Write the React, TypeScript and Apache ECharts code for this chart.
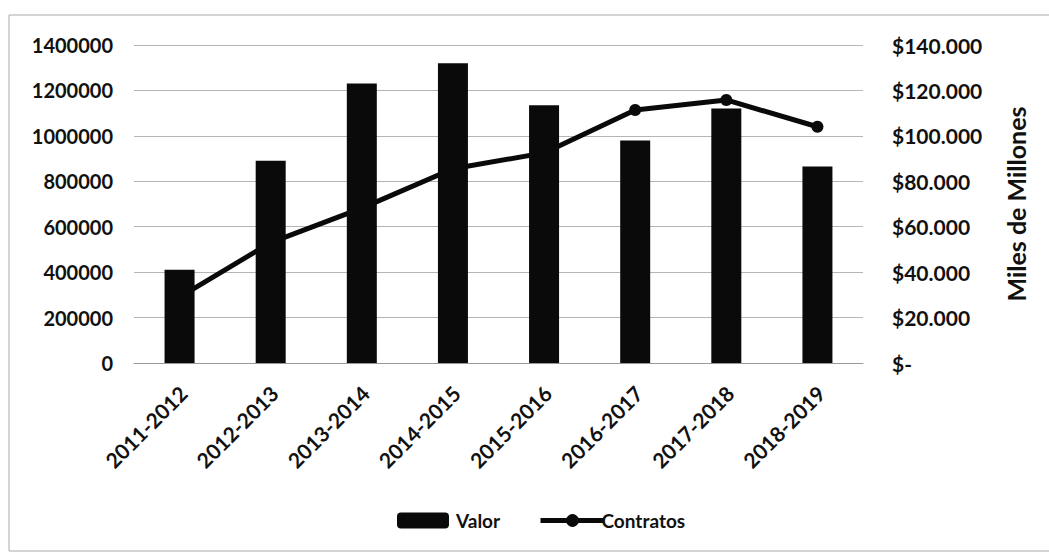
import React, { useEffect, useRef } from "react";
import * as echarts from "echarts";

const categories = ["2011-2012", "2012-2013", "2013-2014", "2014-2015", "2015-2016", "2016-2017", "2017-2018", "2018-2019"];
const valor = [41000, 89000, 123000, 132000, 113500, 98000, 112000, 86500];
const contratos = [290000, 530000, 682000, 855000, 925000, 1114000, 1158000, 1040000];

const FONT = "Lato, 'Open Sans', sans-serif";

function fmtMoney(v: number): string {
  if (v === 0) return "$-";
  const s = String(Math.round(v));
  let out = "";
  for (let i = 0; i < s.length; i++) {
    if (i > 0 && (s.length - i) % 3 === 0) out += ".";
    out += s[i];
  }
  return "$" + out;
}

export default function App() {
  const ref = useRef<HTMLDivElement>(null);
  useEffect(() => {
    if (!ref.current) return;
    const chart = echarts.init(ref.current, null, { renderer: "svg" });
    chart.setOption({
      animation: false,
      backgroundColor: "#ffffff",
      textStyle: { fontFamily: FONT },
      grid: { left: 134, right: 186, top: 45, bottom: 192 },
      legend: [
        {
          data: ["Valor"],
          left: 392,
          top: 506,
          itemWidth: 52,
          itemHeight: 16,
          itemGap: 10,
          textStyle: { fontFamily: FONT, fontSize: 19, fontWeight: "bold", color: "#111", padding: [0, 0, 0, 2] },
        },
        {
          data: ["Contratos"],
          left: 533,
          top: 506,
          itemWidth: 64,
          itemHeight: 16,
          itemGap: 0,
          lineStyle: { width: 5, color: "#0a0a0a" },
          textStyle: { fontFamily: FONT, fontSize: 19, fontWeight: "bold", color: "#111", padding: [0, 0, 0, -8] },
        },
      ],
      xAxis: {
        type: "category",
        data: categories,
        axisLine: { show: true, lineStyle: { color: "#999", width: 1 } },
        axisTick: { show: false },
        axisLabel: {
          rotate: 45,
          margin: 30,
          interval: 0,
          fontFamily: FONT,
          fontSize: 21,
          fontWeight: "bold",
          color: "#111",
          padding: [0, -5, 0, 0],
        },
      },
      yAxis: [
        {
          type: "value",
          min: 0,
          max: 1400000,
          interval: 200000,
          axisLine: { show: false },
          axisTick: { show: false },
          splitLine: { show: true, lineStyle: { color: "#b5b5b5", width: 1 } },
          axisLabel: {
            margin: 21,
            fontFamily: FONT,
            fontSize: 20,
            fontWeight: "bold",
            color: "#111",
            formatter: (v: number) => String(v),
          },
        },
        {
          type: "value",
          min: 0,
          max: 140000,
          interval: 20000,
          position: "right",
          axisLine: { show: false },
          axisTick: { show: false },
          splitLine: { show: false },
          axisLabel: {
            margin: 29,
            fontFamily: FONT,
            fontSize: 21,
            fontWeight: "bold",
            color: "#111",
            formatter: (v: number) => fmtMoney(v),
          },
          name: "Miles de Millones",
          nameLocation: "middle",
          nameRotate: 90,
          nameGap: 140,
          nameTextStyle: { fontFamily: FONT, fontSize: 25, fontWeight: "bold", color: "#111" },
        },
      ],
      series: [
        {
          name: "Valor",
          type: "bar",
          yAxisIndex: 1,
          data: valor,
          barWidth: 30,
          itemStyle: { color: "#0a0a0a" },
        },
        {
          name: "Contratos",
          type: "line",
          yAxisIndex: 0,
          data: contratos,
          symbol: "circle",
          symbolSize: 12,
          lineStyle: { color: "#0a0a0a", width: 5 },
          itemStyle: { color: "#0a0a0a" },
        },
      ],
      graphic: [
        { type: "line", shape: { x1: 9, y1: 15, x2: 1049, y2: 15 }, style: { stroke: "#aaa", lineWidth: 1 } },
        { type: "line", shape: { x1: 9, y1: 15, x2: 9, y2: 551 }, style: { stroke: "#aaa", lineWidth: 1 } },
        { type: "line", shape: { x1: 9, y1: 551, x2: 1049, y2: 551 }, style: { stroke: "#aaa", lineWidth: 1 } },
      ],
    });
    return () => chart.dispose();
  }, []);
  return <div ref={ref} style={{ width: 1049, height: 555, position: "absolute", left: 0, top: 0 }} />;
}
